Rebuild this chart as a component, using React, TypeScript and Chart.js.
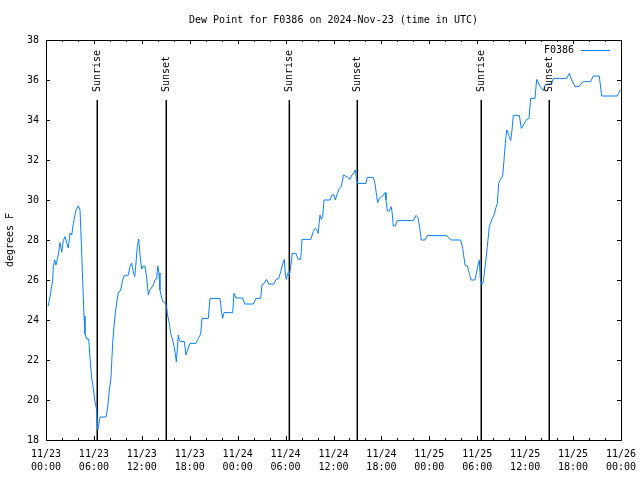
import React, { useEffect, useRef } from "react";
import { Chart, registerables } from "chart.js";

Chart.register(...registerables);

const TITLE = "Dew Point for F0386 on 2024-Nov-23 (time in UTC)";
const SERIES_LABEL = "F0386";
const Y_LABEL = "degrees F";
const FONT_FAMILY = "'DejaVu Sans Mono', 'Liberation Mono', monospace";

const xTickLabels: string[][] = [
  ["11/23", "00:00"], ["11/23", "06:00"], ["11/23", "12:00"], ["11/23", "18:00"],
  ["11/24", "00:00"], ["11/24", "06:00"], ["11/24", "12:00"], ["11/24", "18:00"],
  ["11/25", "00:00"], ["11/25", "06:00"], ["11/25", "12:00"], ["11/25", "18:00"],
  ["11/26", "00:00"],
];

// hours since 2024-11-23 00:00 UTC
const hours: number[] = [
  0.25, 0.5, 0.84, 0.91, 1.09, 1.25, 1.54, 1.75, 1.97, 2.17, 2.38, 2.59, 2.79, 3.01, 3.22, 3.42,
  3.76, 4.04, 4.26, 4.47, 4.6, 4.76, 4.88, 5.1, 5.35, 5.51, 5.72, 5.92, 6.14, 6.35, 6.47, 6.6,
  6.76, 7.51, 7.73, 7.93, 8.14, 8.35, 8.51, 8.68, 8.85, 9.05, 9.35, 9.6, 9.77, 10.31, 10.52, 10.73,
  10.93, 11.11, 11.27, 11.43, 11.61, 11.77, 11.98, 12.18, 12.4, 12.61, 12.81, 13.02, 13.44, 13.65,
  13.86, 13.99, 14.15, 14.27, 14.49, 14.69, 14.94, 15.11, 15.19, 15.44, 15.61, 15.87, 16.03, 16.19,
  16.32, 16.57, 16.69, 16.87, 17.32, 17.53, 17.74, 18.03, 18.78, 19.07, 19.37, 19.53, 20.32, 20.54,
  21.79, 22.0, 22.13, 22.29, 23.38, 23.54, 23.79, 24.63, 24.88, 25.96, 26.3, 26.88, 27.05, 27.33,
  27.59, 27.89, 28.55, 28.8, 29.14, 29.39, 29.59, 29.84, 29.97, 30.09, 30.27, 30.47, 30.64, 30.84,
  31.3, 31.59, 31.89, 32.06, 33.15, 33.47, 33.72, 33.9, 34.06, 34.31, 34.47, 34.65, 34.81, 35.56,
  35.81, 36.06, 36.23, 36.48, 36.73, 36.94, 37.15, 37.23, 37.66, 38.07, 38.28, 38.48, 38.73, 38.91,
  38.98, 40.07, 40.23, 40.98, 41.2, 41.41, 41.53, 41.74, 42.16, 42.45, 42.57, 42.74, 42.99, 43.2,
  43.33, 43.49, 43.74, 43.99, 45.99, 46.33, 46.58, 46.83, 47.0, 47.46, 47.75, 50.17, 50.68, 51.93,
  52.18, 52.47, 52.76, 53.01, 53.22, 53.72, 54.01, 54.26, 54.38, 54.56, 54.76, 55.01, 55.26, 55.51,
  55.81, 56.1, 56.35, 56.51, 56.69, 56.85, 57.18, 57.39, 57.51, 57.69, 57.89, 58.01, 58.19, 58.35,
  58.52, 59.27, 59.52, 59.77, 60.02, 60.19, 60.48, 60.69, 61.23, 61.44, 61.77, 62.02, 62.27, 62.48,
  62.9, 63.32, 63.52, 65.2, 65.53, 65.83, 66.24, 66.74, 67.28, 68.21, 68.53, 69.28, 69.58, 71.54,
  71.71, 71.87,
];

// dew point, degrees F
const dewPoint: number[] = [
  24.67, 25.17, 26.0, 26.65, 27.0, 26.75, 27.25, 27.87, 27.4, 27.97, 28.17, 27.85, 27.6, 28.35, 28.25, 28.83,
  29.5, 29.7, 29.5, 27.4, 25.9, 24.2, 23.3, 23.05, 23.05, 22.1, 21.1, 20.6, 19.9, 19.5, 18.5, 18.75,
  19.15, 19.15, 19.65, 20.5, 21.15, 22.85, 23.65, 24.35, 24.85, 25.35, 25.5, 26.0, 26.2, 26.25, 26.67, 26.85,
  26.4, 26.17, 26.85, 27.67, 28.05, 27.25, 26.55, 26.7, 26.7, 26.1, 25.25, 25.5, 25.75, 26.0,
  26.05, 26.7, 26.35, 25.5, 25.1, 24.9, 24.83, 24.67, 24.33, 23.83, 23.33, 23.0, 22.67, 22.33,
  21.9, 23.25, 23.0, 22.92, 22.92, 22.25, 22.5, 22.83, 22.83, 23.08, 23.3, 24.08, 24.08, 25.08,
  25.08, 24.33, 24.08, 24.37, 24.37, 25.33, 25.1, 25.1, 24.8, 24.8, 25.08, 25.08, 25.75, 25.83,
  26.03, 25.8, 25.8, 26.03, 26.08, 26.42, 26.75, 27.03, 26.25, 26.03, 26.33, 26.25, 26.67, 27.33,
  27.33, 27.03, 27.03, 28.03, 28.03, 28.42, 28.58, 28.53, 28.33, 29.25, 29.03, 29.17, 30.0, 30.0,
  30.25, 30.25, 30.0, 30.33, 30.58, 30.67, 31.0, 31.25, 31.17, 31.03, 31.25, 31.3, 31.5, 31.0,
  30.83, 30.83, 31.13, 31.13, 30.83, 30.17, 29.87, 30.08, 30.2, 30.37, 30.0, 29.45, 29.45, 29.67,
  29.42, 28.7, 28.7, 28.97, 28.97, 29.23, 29.12, 28.5, 28.0, 28.0, 28.22, 28.22, 28.0, 28.0,
  27.58, 26.75, 26.7, 26.33, 26.0, 26.0, 26.58, 27.0, 26.08, 25.75, 25.92, 26.75, 27.67, 28.67,
  29.0, 29.25, 29.62, 29.83, 30.83, 31.0, 31.2, 32.17, 32.83, 33.5, 33.33, 33.17, 32.97, 33.5,
  34.23, 34.23, 33.58, 33.75, 33.92, 34.03, 34.08, 35.08, 35.08, 36.03, 35.75, 35.58, 35.47, 35.75,
  35.8, 35.8, 36.08, 36.08, 36.33, 36.0, 35.67, 35.67, 35.92, 35.92, 36.2, 36.2, 35.2, 35.2,
  35.33, 35.5,
];

const sunEventHours: number[] = [6.42, 15.06, 30.47, 38.98, 54.5, 63.02];
const sunEventLabels: string[] = ["Sunrise", "Sunset", "Sunrise", "Sunset", "Sunrise", "Sunset"];
const SUN_LINE_TOP = 35;
const Y_MIN = 18;
const Y_MAX = 38;
const X_MIN = 0;
const X_MAX = 72;

const LINE_COLOR = "#0a7fff";

const gnuplotFrame = {
  id: "gnuplotFrame",
  afterDatasetsDraw(chart: any) {
    const { ctx, chartArea: a, scales } = chart;
    const xs = scales.x;
    const ys = scales.y;
    ctx.save();
    ctx.strokeStyle = "#000";
    ctx.lineWidth = 1;
    ctx.strokeRect(a.left + 0.5, a.top + 0.5, a.right - a.left, a.bottom - a.top);
    ctx.beginPath();
    for (let h = X_MIN; h <= X_MAX; h += 2) {
      const px = Math.round(xs.getPixelForValue(h)) + 0.5;
      const len = h % 6 === 0 ? 4 : 2;
      ctx.moveTo(px, a.bottom);
      ctx.lineTo(px, a.bottom - len);
      ctx.moveTo(px, a.top);
      ctx.lineTo(px, a.top + len);
    }
    for (const t of ys.ticks) {
      const py = Math.round(ys.getPixelForValue(t.value)) + 0.5;
      ctx.moveTo(a.left, py);
      ctx.lineTo(a.left + 4, py);
      ctx.moveTo(a.right, py);
      ctx.lineTo(a.right - 4, py);
    }
    ctx.stroke();

    ctx.font = "10px " + FONT_FAMILY;
    ctx.fillStyle = "#000";
    ctx.textAlign = "left";
    ctx.textBaseline = "middle";
    sunEventHours.forEach((h, i) => {
      const px = xs.getPixelForValue(h);
      const py = ys.getPixelForValue(SUN_LINE_TOP) - 8;
      ctx.save();
      ctx.translate(px + 0.5, py);
      ctx.rotate(-Math.PI / 2);
      ctx.fillText(sunEventLabels[i], 0, 0);
      ctx.restore();
    });

    const ds = chart.data.datasets[0];
    const ly = a.top + 10;
    ctx.textAlign = "right";
    ctx.fillText(ds.label, a.right - 47, ly);
    ctx.strokeStyle = ds.borderColor;
    ctx.beginPath();
    ctx.moveTo(a.right - 40, ly + 0.5);
    ctx.lineTo(a.right - 11, ly + 0.5);
    ctx.stroke();
    ctx.restore();
  },
};

export default function App() {
  const canvasRef = useRef<HTMLCanvasElement | null>(null);

  useEffect(() => {
    if (!canvasRef.current) return;
    const font = { family: FONT_FAMILY, size: 10 };
    const mainData = hours.map((h, i) => ({ x: h, y: dewPoint[i] }));
    const sunDatasets = sunEventHours.map((h, i) => ({
      label: sunEventLabels[i],
      data: [{ x: h, y: Y_MIN }, { x: h, y: SUN_LINE_TOP }],
      borderColor: "#000",
      borderWidth: 1.5,
      pointRadius: 0,
      fill: false,
    }));
    const chart = new Chart(canvasRef.current, {
      type: "line",
      data: {
        datasets: [
          {
            label: SERIES_LABEL,
            data: mainData,
            borderColor: LINE_COLOR,
            borderWidth: 1,
            pointRadius: 0,
            tension: 0,
            fill: false,
          },
          ...sunDatasets,
        ],
      },
      options: {
        responsive: false,
        animation: false,
        devicePixelRatio: 1,
        layout: { padding: { left: 0, right: 19, top: 0, bottom: 0 } },
        plugins: {
          legend: { display: false },
          tooltip: { enabled: false },
          title: {
            display: true,
            text: TITLE,
            fullSize: false,
            color: "#000",
            font: { ...font, weight: "normal", lineHeight: 1.2 },
            padding: { top: 14, bottom: 14 },
          },
        },
        scales: {
          x: {
            type: "linear",
            min: X_MIN,
            max: X_MAX,
            grid: { display: false, drawTicks: false },
            border: { display: false },
            afterFit: (s: any) => {
              s.height = 40;
              s.paddingLeft = 0;
              s.paddingRight = 0;
            },
            ticks: {
              stepSize: 6,
              autoSkip: false,
              maxRotation: 0,
              padding: 8,
              color: "#000",
              font: { ...font, lineHeight: 1.3 },
              callback: (_v: any, i: number) => xTickLabels[i],
            },
          },
          y: {
            min: Y_MIN,
            max: Y_MAX,
            grid: { display: false, drawTicks: false },
            border: { display: false },
            afterFit: (s: any) => {
              s.width = 46;
              s.paddingTop = 0;
              s.paddingBottom = 0;
            },
            title: {
              display: true,
              text: Y_LABEL,
              color: "#000",
              font: { ...font, lineHeight: 1.2 },
              padding: { top: 4, bottom: 4 },
            },
            ticks: {
              stepSize: 2,
              padding: 7,
              color: "#000",
              font,
              callback: (v: any) => String(v),
            },
          },
        },
      },
      plugins: [gnuplotFrame],
    } as any);
    return () => chart.destroy();
  }, []);

  return (
    <div style={{ position: "absolute", left: 0, top: 0, width: 640, height: 480, background: "#fff" }}>
      <canvas ref={canvasRef} width={640} height={480} style={{ display: "block" }} />
    </div>
  );
}
